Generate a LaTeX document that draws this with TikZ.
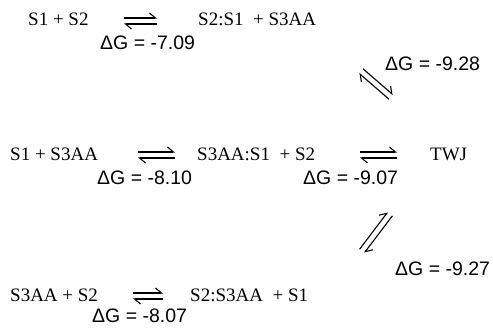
\documentclass[tikz,border=0pt]{standalone}
\usepackage{fontspec}
\setmainfont{Liberation Serif}
\newfontfamily\dgfont{Liberation Sans}
\usetikzlibrary{arrows.meta, calc}

\tikzset{
  species/.style={anchor=base west, inner sep=0pt, font=\fontsize{19}{22}\selectfont},
  energy/.style={anchor=base west, inner sep=0pt, font=\dgfont\fontsize{19.5}{22}\selectfont},
  harp/.style={line width=1.1pt, -{Straight Barb[harpoon, length=6pt, width=10pt, line width=1.1pt]}}
}
% two half-headed arrows, one each way, between two points
\newcommand{\equil}[2]{%
  \draw[harp] ($(#1)!3pt!90:(#2)$) -- ($(#2)!3pt!-90:(#1)$);
  \draw[harp] ($(#2)!3pt!90:(#1)$) -- ($(#1)!3pt!-90:(#2)$);}

\begin{document}
\begin{tikzpicture}[x=1pt, y=-1pt]
    \useasboundingbox (0,0) rectangle (493,327);

    % Top row
    \node[species] (S1S2)   at (28,25)  {S1 + S2};
    \node[species] (S2S1)   at (198,25) {S2:S1~ + S3AA};
    \node[energy]  (dG709)  at (100,49) {ΔG = -7.09};
    \node[energy]  (dG928)  at (385,70) {ΔG = -9.28};

    % Middle row
    \node[species] (S1S3)   at (10,160)  {S1 + S3AA};
    \node[species] (S3S1)   at (197,160) {S3AA:S1~ + S2};
    \node[species] (TWJ)    at (430,160) {TWJ};
    \node[energy]  (dG810)  at (97,184)  {ΔG = -8.10};
    \node[energy]  (dG907)  at (303,184) {ΔG = -9.07};
    \node[energy]  (dG927)  at (395,275) {ΔG = -9.27};

    % Bottom row
    \node[species] (S3S2)   at (10,301)  {S3AA + S2};
    \node[species] (S2S3)   at (190,301) {S2:S3AA~ + S1};
    \node[energy]  (dG807)  at (92,322)  {ΔG = -8.07};

    % Arrow end points
    \coordinate (a1) at (124,21);  \coordinate (b1) at (157,21);
    \coordinate (a2) at (138,155); \coordinate (b2) at (175,155);
    \coordinate (a3) at (360,155); \coordinate (b3) at (397,155);
    \coordinate (a4) at (133,296); \coordinate (b4) at (163,296);
    \coordinate (a5) at (361,71);  \coordinate (b5) at (391,97);
    \coordinate (a6) at (362,251); \coordinate (b6) at (390,214);

    % Equilibria
    \equil{a1}{b1}
    \equil{a2}{b2}
    \equil{a3}{b3}
    \equil{a4}{b4}
    \equil{a5}{b5}
    \equil{a6}{b6}
\end{tikzpicture}
\end{document}
